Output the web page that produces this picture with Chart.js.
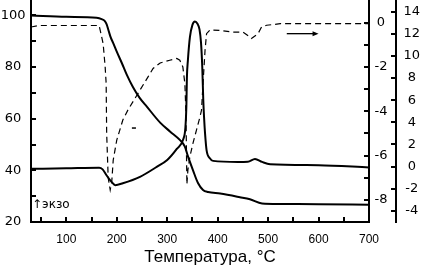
<!DOCTYPE html>
<html>
<head>
<meta charset="utf-8">
<script src="https://cdn.jsdelivr.net/npm/chart.js@4.4.1/dist/chart.umd.min.js"></script>
<style>
  html, body { margin: 0; padding: 0; background: #fff; }
  canvas { display: block; }
</style>
</head>
<body>
<canvas id="thermoChart" width="423" height="267"></canvas>
<script>
// TG curve, mass % (left axis)
const tgTemp = [30, 100, 160, 170, 176, 180, 184, 188, 193, 200, 210, 220, 232, 245, 260, 286, 306, 325, 335, 341, 351, 361, 371, 381, 405, 444, 464, 488, 524, 600, 700];
const tgMass = [100, 99.5, 99.1, 98.6, 97.9, 96.6, 94, 91.5, 89.3, 86, 81.6, 77, 72.3, 68.2, 64.6, 58.5, 55, 51.8, 49.2, 45.5, 40.1, 35.1, 32.4, 31.6, 31, 29.6, 28.8, 27.2, 27, 26.9, 26.7];

// DTA curve (outer right axis)
const dtaTemp = [30, 100, 165, 172, 180, 190, 197, 212, 246, 280, 300, 319, 332, 336, 338, 339, 341, 345, 350, 355, 360, 364, 367, 369.5, 371.5, 373, 375, 378, 385, 391, 440, 460, 474, 488, 504, 600, 700];
const dtaSignal = [-0.2, -0.15, -0.1, -0.25, -0.8, -1.4, -1.67, -1.5, -0.92, 0, 0.6, 1.6, 2.5, 3.5, 5.5, 8, 9.6, 11.7, 12.8, 13.1, 12.9, 12.4, 11.2, 9, 6, 4.5, 3, 1.5, 0.74, 0.52, 0.43, 0.45, 0.7, 0.43, 0.22, 0.13, -0.07];

// DTG curve, dashed (inner right axis)
const dtgTemp = [30, 45, 100, 165, 168, 173, 177, 179, 180, 183, 187, 190, 193, 200, 212, 222, 246, 262, 272, 286, 305, 319, 325, 331, 335, 337, 338, 339, 341, 345, 351, 358, 365, 368, 371, 375, 378, 385, 405, 430, 450, 464, 467, 480, 487, 497, 524, 700];
const dtgRate = [-0.2, -0.13, -0.13, -0.13, -0.43, -0.95, -2, -2.75, -5, -7, -7.55, -7.2, -6.2, -5.3, -4.4, -3.95, -3.05, -2.45, -2.07, -1.82, -1.7, -1.62, -1.7, -2, -2.75, -4, -5.5, -7.3, -6.65, -6.05, -5.45, -4.85, -4.25, -3.95, -2.75, -1.25, -0.5, -0.33, -0.35, -0.43, -0.43, -0.65, -0.72, -0.5, -0.2, -0.12, -0.05, -0.05];

// ticks
const xTicks = [50, 100, 150, 200, 250, 300, 350, 400, 450, 500, 550, 600, 650, 700];
const xLabels = [100, 200, 300, 400, 500, 600, 700];
const tgTicks = [20, 30, 40, 50, 60, 70, 80, 90, 100];
const tgLabels = [20, 40, 60, 80, 100];
const dtgTicks = [-9, -8, -7, -6, -5, -4, -3, -2, -1, 0];
const dtgLabels = [-8, -6, -4, -2, 0];
const dtaTicks = [-4, -2, 0, 2, 4, 6, 8, 10, 12, 14];

function pts(xs, ys) {
    return xs.map((t, i) => ({x: t, y: ys[i]}));
}

const axisFont = {family: 'DejaVu Sans', size: 13};
const xFont = {family: 'Liberation Sans', size: 12};
const noTick = 'rgba(0,0,0,0)';

function setTicks(list) {
    return function(scale) { scale.ticks = list.map(v => ({value: v})); };
}

function yScale(position, min, max, ticks, labels, width, padding) {
    return {
        type: 'linear',
        position: position,
        min: min,
        max: max,
        afterBuildTicks: setTicks(ticks),
        afterFit: function(s) {
            s.width = width;
            s.paddingTop = 0;
            s.paddingBottom = 0;
        },
        ticks: {
            color: '#000',
            font: axisFont,
            padding: padding,
            crossAlign: 'center',
            callback: v => labels.includes(v) ? String(v) : ''
        },
        // tick marks are drawn inward by the inTicks plugin
        grid: {drawOnChartArea: false, tickLength: -5, tickColor: noTick},
        border: {color: '#000', width: 2}
    };
}

// inward tick marks, drawn by hand
const inTicks = {
    id: 'inTicks',
    afterDraw(chart) {
        const {ctx, scales} = chart;
        ctx.save();
        ctx.strokeStyle = '#000';
        ctx.lineWidth = 2;
        ctx.beginPath();
        for (const key of ['x', 'yTg', 'yDtg', 'yDta']) {
            const s = scales[key];
            for (const t of s.ticks) {
                const p = Math.round(s.getPixelForValue(t.value));
                if (key === 'x') {
                    ctx.moveTo(p, s.top);
                    ctx.lineTo(p, s.top - 5);
                } else if (key === 'yTg') {
                    ctx.moveTo(s.right, p);
                    ctx.lineTo(s.right + 5, p);
                } else {
                    ctx.moveTo(s.left, p);
                    ctx.lineTo(s.left - 5, p);
                }
            }
        }
        ctx.stroke();
        ctx.restore();
    }
};

// annotations: arrow, экзо mark, x title
const notes = {
    id: 'notes',
    afterDraw(chart) {
        const {ctx, scales} = chart;
        const x = scales.x, tg = scales.yTg, dtg = scales.yDtg;
        ctx.save();
        ctx.strokeStyle = '#000';
        ctx.fillStyle = '#000';

        // arrow pointing to the right axis
        const ay = dtg.getPixelForValue(-0.5);
        const ax1 = x.getPixelForValue(537), ax2 = x.getPixelForValue(600);
        ctx.lineWidth = 1.3;
        ctx.beginPath();
        ctx.moveTo(ax1, ay);
        ctx.lineTo(ax2 - 4, ay);
        ctx.stroke();
        ctx.beginPath();
        ctx.moveTo(ax2, ay);
        ctx.lineTo(ax2 - 6, ay - 2.5);
        ctx.lineTo(ax2 - 6, ay + 2.5);
        ctx.closePath();
        ctx.fill();

        // small mark near dashed curve
        const my = tg.getPixelForValue(56.4);
        ctx.lineWidth = 1.5;
        ctx.beginPath();
        ctx.moveTo(x.getPixelForValue(230), my);
        ctx.lineTo(x.getPixelForValue(238), my);
        ctx.stroke();

        // экзо
        ctx.font = '12px "DejaVu Sans"';
        ctx.textBaseline = 'middle';
        ctx.textAlign = 'left';
        ctx.fillText('↑экзо', x.getPixelForValue(38) - 3, tg.getPixelForValue(26.6));

        // axis title
        ctx.font = '17px "Liberation Sans"';
        ctx.textAlign = 'center';
        ctx.textBaseline = 'alphabetic';
        ctx.fillText('Температура, °C', (x.left + x.right) / 2 + 10, 262);
        ctx.restore();
    }
};

new Chart(document.getElementById('thermoChart'), {
    type: 'line',
    data: {
        datasets: [
            {
                label: 'TG',
                data: pts(tgTemp, tgMass),
                yAxisID: 'yTg',
                borderColor: '#000',
                borderWidth: 2,
                pointRadius: 0,
                cubicInterpolationMode: 'monotone'
            },
            {
                label: 'DTA',
                data: pts(dtaTemp, dtaSignal),
                yAxisID: 'yDta',
                borderColor: '#000',
                borderWidth: 2,
                pointRadius: 0,
                cubicInterpolationMode: 'monotone'
            },
            {
                label: 'DTG',
                data: pts(dtgTemp, dtgRate),
                yAxisID: 'yDtg',
                borderColor: '#000',
                borderWidth: 1.2,
                borderDash: [6, 4],
                pointRadius: 0,
                tension: 0
            }
        ]
    },
    options: {
        responsive: false,
        devicePixelRatio: 1,
        animation: false,
        layout: {padding: 0},
        plugins: {legend: {display: false}, tooltip: {enabled: false}},
        scales: {
            x: {
                type: 'linear',
                min: 30,
                max: 700,
                afterBuildTicks: setTicks(xTicks),
                afterFit: function(s) {
                    s.height = 45;
                    s.paddingLeft = 0;
                    s.paddingRight = 0;
                },
                ticks: {
                    color: '#000',
                    font: xFont,
                    padding: 15,
                    maxRotation: 0,
                    autoSkip: false,
                    callback: v => xLabels.includes(v) ? String(v) : ''
                },
                grid: {drawOnChartArea: false, tickLength: -5, tickColor: noTick},
                border: {color: '#000', width: 2}
            },
            yTg: yScale('left', 20, 106, tgTicks, tgLabels, 31, 10.5),
            yDtg: yScale('right', -9, 1.02, dtgTicks, dtgLabels, 27, 10.5),
            yDta: yScale('right', -5, 15.05, dtaTicks, dtaTicks, 27, 12.5)
        }
    },
    plugins: [inTicks, notes]
});
</script>
</body>
</html>
